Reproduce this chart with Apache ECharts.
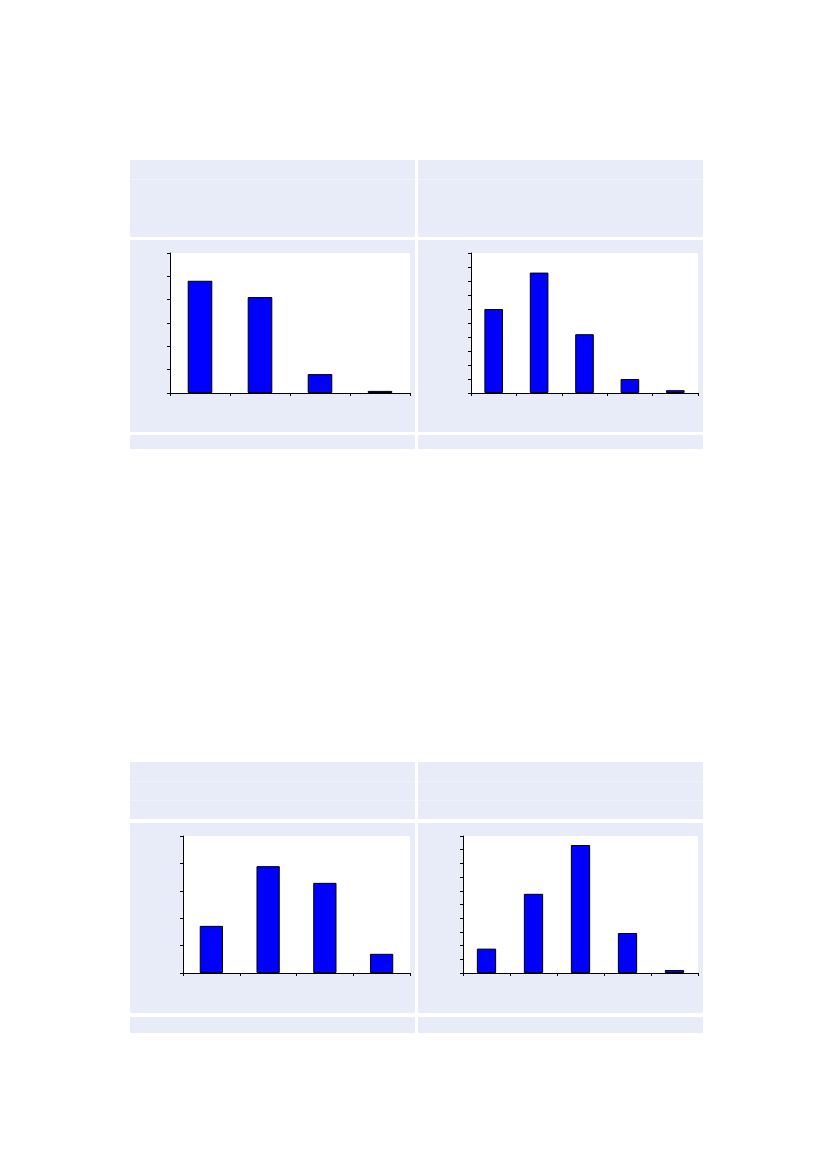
<!DOCTYPE html>
<html>
<head>
<meta charset="utf-8">
<script src="https://cdn.jsdelivr.net/npm/echarts@6/dist/echarts.min.js"></script>
<style>
html,body{margin:0;padding:0;background:#fff;}
#c{width:827px;height:1169px;}
</style>
</head>
<body>
<div id="c"></div>
<script>
// Data
const categoriesA = ['A1', 'A2', 'A3', 'A4'];
const valuesA = [48.1, 41.1, 8.1, 0.9];
const categoriesB = ['B1', 'B2', 'B3', 'B4', 'B5'];
const valuesB = [30, 43, 21, 5, 1];
const categoriesC = ['C1', 'C2', 'C3', 'C4'];
const valuesC = [17.2, 39, 32.9, 7];
const categoriesD = ['D1', 'D2', 'D3', 'D4', 'D5'];
const valuesD = [8.9, 28.9, 46.7, 14.6, 1.1];
const yAxisA = {min: 0, max: 60, interval: 10};
const yAxisB = {min: 0, max: 50, interval: 5};
const yAxisC = {min: 0, max: 50, interval: 10};
const yAxisD = {min: 0, max: 50, interval: 5};

const panels = [
  {cats: categoriesA, vals: valuesA, y: yAxisA, grid: {left: 170, top: 253, width: 240, height: 140}},
  {cats: categoriesB, vals: valuesB, y: yAxisB, grid: {left: 471, top: 253, width: 227, height: 140}},
  {cats: categoriesC, vals: valuesC, y: yAxisC, grid: {left: 183, top: 836, width: 227, height: 137}},
  {cats: categoriesD, vals: valuesD, y: yAxisD, grid: {left: 463, top: 836, width: 235, height: 137}}
];

const BG = '#E8ECF9';
const LINE = '#EFF2FB';
function rect(x, y, w, h, fill) {
  return {type: 'rect', z: -10, silent: true, shape: {x: x, y: y, width: w, height: h}, style: {fill: fill}};
}
const graphics = [
  // top block
  rect(130, 160, 285, 77, BG), rect(418, 160, 285, 77, BG),
  rect(130, 179, 285, 1, LINE), rect(418, 179, 285, 1, LINE),
  rect(130, 240, 285, 192, BG), rect(418, 240, 285, 192, BG),
  rect(130, 435, 285, 14, BG), rect(418, 435, 285, 14, BG),
  // bottom block
  rect(130, 762, 285, 57, BG), rect(418, 762, 285, 57, BG),
  rect(130, 781, 285, 1, LINE), rect(418, 781, 285, 1, LINE),
  rect(130, 800, 285, 1, LINE), rect(418, 800, 285, 1, LINE),
  rect(130, 823, 285, 190, BG), rect(418, 823, 285, 190, BG),
  rect(130, 1017, 285, 16, BG), rect(418, 1017, 285, 16, BG)
];

const option = {
  backgroundColor: '#ffffff',
  animation: false,
  graphic: {elements: graphics},
  grid: panels.map(p => Object.assign({show: true, backgroundColor: '#ffffff', borderWidth: 0}, p.grid)),
  xAxis: panels.map((p, i) => ({
    type: 'category', gridIndex: i, data: p.cats, boundaryGap: true,
    axisLine: {show: true, lineStyle: {color: '#000', width: 1}},
    axisTick: {show: true, length: 3, lineStyle: {color: '#000'}},
    axisLabel: {show: false}, splitLine: {show: false}
  })),
  yAxis: panels.map((p, i) => ({
    type: 'value', gridIndex: i, min: p.y.min, max: p.y.max, interval: p.y.interval,
    axisLine: {show: true, lineStyle: {color: '#000', width: 1}},
    axisTick: {show: true, length: 3, lineStyle: {color: '#000'}},
    axisLabel: {show: false}, splitLine: {show: false}
  })),
  series: panels.map((p, i) => ({
    type: 'bar', xAxisIndex: i, yAxisIndex: i, data: p.vals,
    barCategoryGap: '59%',
    itemStyle: {color: '#0000FF', borderColor: '#000000', borderWidth: 1}
  }))
};

const chart = echarts.init(document.getElementById('c'), null, {renderer: 'canvas'});
chart.setOption(option);
</script>
</body>
</html>
